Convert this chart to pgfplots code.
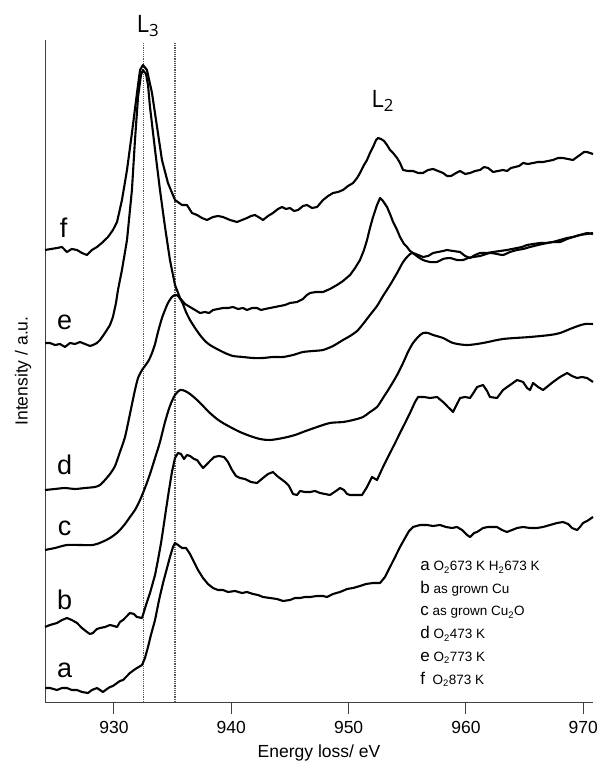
\documentclass[border=0pt]{standalone}
\usepackage{pgfplots}
\pgfplotsset{compat=1.18}
\usepackage{fontspec}
\setmainfont{Liberation Sans}
\newfontfamily\lfont{Open Sans}
\begin{document}
\begin{tikzpicture}[x=1pt,y=1pt]
\path[use as bounding box] (-45,-63) rectangle (556,702);
\begin{axis}[
  scale only axis, width=548pt, height=662pt,
  at={(0,0)}, anchor=south west,
  xmin=924.12, xmax=970.83, ymin=0, ymax=662,
  axis x line=bottom, axis y line=left,
  x axis line style={-}, y axis line style={-},
  axis line style={line width=1pt, black!75},
  xtick={930,940,950,960,970}, ytick=\empty,
  xtick align=outside, major tick length=12pt,
  tick style={line width=1pt, black!75},
  /pgf/number format/assume math mode=true,
  /pgf/number format/set thousands separator={},
  tick label style={font=\fontsize{17.5}{20}\selectfont},
  xticklabel style={yshift=-4pt},
  xlabel={Energy loss/ eV}, ylabel={Intensity / a.u.},
  every axis x label/.style={at={(axis description cs:0.5,0)},anchor=center,yshift=-51pt,font=\fontsize{17.5}{20}\selectfont},
  every axis y label/.style={at={(axis description cs:-0.040,0.5)},anchor=center,rotate=90,font=\fontsize{17.5}{20}\selectfont},
  clip=false,
  spec/.style={black, no markers, solid, line width=2.1pt, line join=round},
]
% dotted reference lines
\addplot[black!65, no markers, densely dotted, line width=1.2pt] coordinates {(932.5,0) (932.5,660)};
\addplot[black!65, no markers, densely dotted, line width=1.2pt] coordinates {(935.2,0) (935.2,660)};
% f
\addplot[spec] coordinates {
(924.12,452)(925.14,454)(925.57,455)(925.99,450)(926.40,453)(926.85,452)(927.27,449)(927.70,447)(928.12,452)(928.55,455)
(929.06,460)(929.49,465)(929.91,472)(930.26,480)(930.68,502)(931.11,532)(931.53,569)(931.96,609)(932.22,632)(932.47,637)
(932.81,632)(933.24,609)(933.67,575)(934.09,542)(934.60,519)(935.20,502)(935.80,497)(936.22,497)(936.65,489)(937.08,487)
(937.50,484)(937.93,482)(938.44,485)(938.87,486)(939.29,485)(939.89,482)(940.49,480)(940.91,482)(941.34,484)(941.68,486)
(942.02,487)(942.45,484)(942.70,482)(943.13,486)(943.55,489)(943.98,493)(944.32,495)(944.66,493)(945.00,494)(945.35,491)
(945.69,492)(946.11,496)(946.45,497)(946.88,494)(947.31,495)(947.82,502)(948.25,506)(948.67,509)(949.10,510)(949.52,512)
(949.95,516)(950.38,519)(950.72,524)(950.97,529)(951.31,537)(951.57,542)(951.82,549)(952.08,555)(952.34,562)(952.51,564)
(952.76,563)(953.02,561)(953.27,557)(953.53,552)(953.79,549)(954.13,544)(954.38,539)(954.64,532)(955.06,531)(955.49,531)
(955.92,529)(956.34,529)(956.77,532)(957.20,533)(957.62,531)(958.05,529)(958.39,526)(958.73,526)(959.16,529)(959.50,531)
(959.93,528)(960.35,529)(960.78,531)(961.20,532)(961.54,535)(961.89,534)(962.31,530)(962.74,531)(963.16,532)(963.50,531)
(963.84,534)(964.19,535)(964.53,536)(964.87,539)(965.29,538)(965.72,539)(966.15,540)(966.57,540)(967.00,541)(967.42,542)
(967.85,544)(968.27,544)(968.70,543)(969.13,542)(969.47,545)(969.72,547)(970.06,550)(970.32,550)(970.83,548)};
% e
\addplot[spec] coordinates {
(924.12,359)(924.54,359)(924.97,357)(925.40,358)(925.82,355)(926.25,359)(926.68,358)(927.10,360)(927.53,358)(927.95,356)
(928.21,357)(928.55,359)(928.81,362)(929.23,369)(929.66,377)(929.91,385)(930.17,399)(930.34,412)(930.68,432)(931.11,462)
(931.53,512)(931.79,562)(932.05,605)(932.30,627)(932.47,632)(932.73,628)(932.90,617)(933.07,595)(933.50,552)(933.92,512)
(934.35,475)(934.77,442)(935.20,417)(935.63,404)(936.05,398)(936.48,395)(936.91,392)(937.33,389)(937.76,390)(938.10,389)
(938.44,392)(938.87,393)(939.29,394)(939.72,394)(940.14,395)(940.57,393)(941.00,394)(941.34,392)(941.77,394)(942.19,394)
(942.53,392)(942.87,393)(943.30,394)(943.72,395)(944.15,396)(944.58,397)(945.00,399)(945.60,400)(946.11,403)(946.45,407)
(946.71,409)(947.22,410)(947.82,410)(948.41,413)(949.01,417)(949.52,421)(950.12,427)(950.55,434)(950.97,442)(951.31,452)
(951.57,462)(951.82,474)(952.08,485)(952.42,497)(952.68,504)(952.93,501)(953.27,495)(953.53,488)(953.79,480)(954.13,472)
(954.38,465)(954.72,458)(954.98,455)(955.23,451)(955.49,449)(955.92,447)(956.34,445)(956.77,446)(957.20,449)(957.62,450)
(958.05,451)(958.39,452)(958.90,451)(959.50,450)(959.93,446)(960.35,444)(960.78,447)(961.20,449)(961.80,449)(962.31,450)
(962.91,451)(963.50,452)(963.93,453)(964.36,454)(964.78,455)(965.21,457)(965.72,458)(966.32,459)(966.91,459)(967.42,460)
(968.02,462)(968.62,464)(969.13,465)(969.72,467)(970.32,469)(970.83,468)};
% d
\addplot[spec, smooth, tension=0.4] coordinates {
(924.12,212)(924.97,213)(925.82,214)(926.68,213)(927.53,214)(928.38,215)(928.81,217)(929.23,222)(929.66,228)(930.09,236)
(930.51,250)(930.94,265)(931.36,288)(931.79,312)(932.05,324)(932.39,332)(932.64,336)(932.98,342)(933.24,349)(933.50,358)
(933.75,370)(934.09,384)(934.35,392)(934.60,399)(934.94,405)(935.20,407)(935.46,406)(935.80,400)(936.14,390)(936.48,382)
(936.91,374)(937.33,367)(937.76,361)(938.18,357)(938.78,353)(939.46,349)(940.14,346)(941.00,345)(941.85,344)(942.70,344)
(943.55,345)(944.41,345)(945.26,347)(946.11,350)(946.97,351)(947.82,352)(948.67,356)(949.52,362)(950.12,366)(950.72,371)
(951.23,378)(951.82,387)(952.42,396)(952.93,406)(953.53,417)(954.13,429)(954.64,440)(955.06,446)(955.41,449)(955.92,445)
(956.34,442)(956.94,440)(957.54,440)(958.05,443)(958.64,444)(959.24,442)(959.76,442)(960.18,444)(960.61,445)(961.20,446)
(962.05,449)(962.65,448)(963.16,447)(963.76,450)(964.36,452)(964.87,453)(965.46,455)(966.15,457)(966.91,459)(967.42,460)
(968.02,460)(968.62,463)(969.13,465)(969.72,467)(970.32,468)(970.83,469)};
% c
\addplot[spec, smooth, tension=0.5] coordinates {
(924.12,152)(924.97,154)(925.99,157)(927.10,157)(928.21,157)(928.98,160)(929.66,164)(930.34,170)(930.94,178)(931.36,185)
(931.79,192)(932.22,202)(932.64,214)(933.07,228)(933.50,244)(933.92,260)(934.35,280)(934.77,296)(935.20,307)(935.63,312)
(936.05,311)(936.48,308)(937.08,302)(937.59,296)(938.18,289)(938.78,283)(939.29,279)(940.06,274)(940.74,270)(941.60,266)
(942.45,263)(943.30,262)(944.41,264)(945.43,267)(946.11,270)(947.31,275)(948.41,279)(949.52,280)(950.38,282)(951.23,285)
(951.82,290)(952.42,295)(952.93,304)(953.53,315)(954.13,327)(954.64,339)(955.06,350)(955.49,359)(955.92,365)(956.34,369)
(956.77,369)(957.20,367)(958.05,364)(958.90,359)(960.10,357)(961.46,359)(963.16,363)(965.46,365)(967.16,367)(968.02,369)
(968.87,373)(969.55,376)(970.15,378)(970.83,378)};
% b
\addplot[spec] coordinates {
(924.12,75)(924.54,77)(925.14,79)(925.57,82)(925.99,84)(926.40,82)(926.85,79)(927.27,74)(927.70,70)(927.95,68)
(928.21,69)(928.55,73)(928.81,74)(929.23,75)(929.66,77)(930.00,76)(930.26,75)(930.51,80)(930.77,82)(931.11,86)
(931.36,89)(931.70,88)(931.96,85)(932.39,84)(932.73,97)(933.07,109)(933.50,127)(933.75,142)(934.01,159)(934.18,172)
(934.43,192)(934.69,212)(934.94,230)(935.20,244)(935.46,249)(935.71,248)(935.97,243)(936.22,247)(936.48,246)(936.82,243)
(937.08,242)(937.33,238)(937.59,234)(937.93,238)(938.27,242)(938.53,245)(938.95,246)(939.38,245)(939.72,240)(940.06,232)
(940.40,226)(940.74,224)(941.17,223)(941.68,220)(942.19,219)(942.70,224)(943.13,228)(943.55,230)(943.90,226)(944.24,223)
(944.58,220)(944.92,216)(945.26,208)(945.60,207)(945.86,211)(946.28,210)(946.71,210)(947.14,211)(947.56,209)(947.99,208)
(948.41,207)(948.92,211)(949.27,214)(949.60,212)(949.87,208)(950.12,207)(950.63,207)(951.14,207)(951.57,215)(951.99,225)
(952.42,222)(952.93,235)(953.53,249)(953.96,259)(954.38,269)(954.81,279)(955.23,289)(955.66,300)(955.92,305)(956.43,305)
(956.94,304)(957.54,305)(958.05,300)(958.47,295)(958.90,290)(959.24,298)(959.50,304)(959.93,305)(960.35,304)(960.69,310)
(960.95,315)(961.46,317)(961.80,311)(962.05,305)(962.65,304)(963.16,312)(963.76,317)(964.36,322)(964.87,320)(965.21,314)
(965.46,312)(965.72,319)(966.15,315)(966.57,312)(967.00,316)(967.42,320)(968.02,325)(968.62,329)(969.04,326)(969.47,324)
(969.89,325)(970.32,324)(970.83,320)};
% a
\addplot[spec] coordinates {
(924.12,14)(924.54,14)(925.14,12)(925.57,14)(925.99,14)(926.40,12)(926.85,12)(927.27,10)(927.78,9)(928.12,12)
(928.55,14)(928.81,12)(929.06,10)(929.40,13)(929.66,15)(929.91,16)(930.26,19)(930.51,21)(930.77,22)(931.11,26)
(931.36,29)(931.70,32)(931.96,34)(932.39,37)(932.64,44)(932.90,55)(933.15,67)(933.50,82)(933.84,102)(934.18,119)
(934.52,134)(934.77,145)(935.03,155)(935.20,159)(935.46,157)(935.80,154)(936.14,154)(936.48,148)(936.82,140)(937.16,132)
(937.59,124)(938.01,118)(938.44,114)(938.87,112)(939.29,112)(939.72,110)(940.32,111)(940.91,109)(941.34,110)(941.85,108)
(942.28,107)(942.70,105)(943.30,104)(943.90,103)(944.41,101)(945.00,102)(945.43,104)(945.86,104)(946.28,105)(946.71,105)
(947.31,106)(947.82,106)(948.16,105)(948.67,108)(949.27,110)(949.87,113)(950.38,114)(950.97,116)(951.48,118)(952.08,119)
(952.68,119)(953.10,125)(953.53,135)(953.96,145)(954.38,155)(954.81,164)(955.15,171)(955.49,175)(956.09,177)(956.68,177)
(957.20,176)(957.79,177)(958.30,175)(958.81,174)(959.24,175)(959.67,172)(960.10,167)(960.35,165)(960.69,169)(960.95,170)
(961.46,174)(961.89,175)(962.31,175)(962.65,175)(963.07,172)(963.50,170)(963.93,172)(964.36,174)(964.87,175)(965.46,174)
(966.06,174)(966.57,175)(967.16,177)(967.76,179)(968.27,180)(968.70,178)(969.04,174)(969.47,172)(969.72,175)(969.98,179)
(970.32,181)(970.83,185)};
% curve labels
\begin{scope}[every node/.style={anchor=base, font=\fontsize{27}{27}\selectfont, inner sep=0pt}]
\node at (axis cs:925.7,464) {f};
\node at (axis cs:925.8,372) {e};
\node at (axis cs:925.8,227) {d};
\node at (axis cs:925.8,166) {c};
\node at (axis cs:925.8,92) {b};
\node at (axis cs:925.8,25) {a};
\end{scope}
% peak labels
\node[anchor=base, inner sep=0pt, font=\lfont\fontsize{24}{24}\selectfont] at (axis cs:932.9,669) {L\textsubscript{3}};
\node[anchor=base, inner sep=0pt, font=\lfont\fontsize{24}{24}\selectfont] at (axis cs:952.9,594) {L\textsubscript{2}};
% key
\begin{scope}[every node/.style={anchor=base west, inner sep=0pt, font=\fontsize{13.5}{14}\selectfont}]
\node at (axis cs:956.1,131) {{\fontsize{17}{17}\selectfont a} O\textsubscript{2}673 K H\textsubscript{2}673 K};
\node at (axis cs:956.1,108) {{\fontsize{17}{17}\selectfont b} as grown Cu};
\node at (axis cs:956.1,86) {{\fontsize{17}{17}\selectfont c} as grown Cu\textsubscript{2}O};
\node at (axis cs:956.1,63) {{\fontsize{17}{17}\selectfont d} O\textsubscript{2}473 K};
\node at (axis cs:956.1,41) {{\fontsize{17}{17}\selectfont e} O\textsubscript{2}773 K};
\node at (axis cs:956.1,18) {{\fontsize{17}{17}\selectfont f} \ O\textsubscript{2}873 K};
\end{scope}
\end{axis}
\end{tikzpicture}
\end{document}
